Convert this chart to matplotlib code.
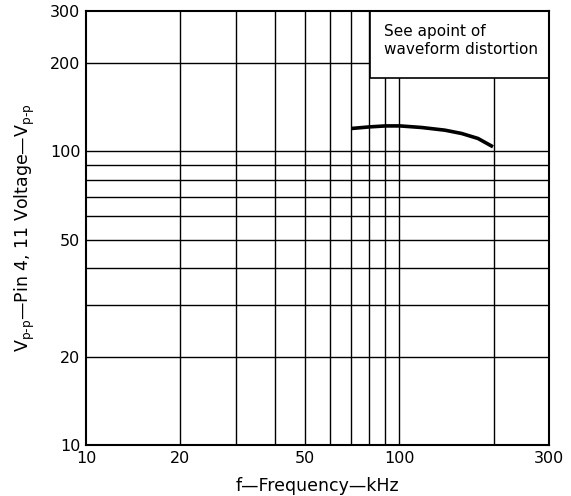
import matplotlib
matplotlib.use("Agg")
import matplotlib.pyplot as plt
from matplotlib.patches import Rectangle

plt.rcParams["font.family"] = ["DejaVu Sans"]

# ── data ──────────────────────────────────────────────────────────────────────
freq_khz = [70.4, 80.5, 90.3, 100.4, 117.7, 139.6, 157.8, 178, 198.8]
vpp      = [119.5, 121, 121.9, 121.9, 120.4, 117.9, 114.9, 110.5, 103.5]

x_grid = [20, 30, 40, 50, 60, 70, 80, 90, 100, 200]
y_grid = [20, 30, 40, 50, 60, 70, 80, 90, 100, 200]
x_ticks = [10, 20, 50, 100, 300]
y_ticks = [10, 20, 50, 100, 200, 300]

note_lines = ["See apoint of", "waveform distortion"]

# ── figure ────────────────────────────────────────────────────────────────────
fig = plt.figure(figsize=(5.71, 4.96), dpi=100)
ax = fig.add_axes([86/571, 51/496, 463/571, 434/496])
ax.set_xscale("log")
ax.set_yscale("log")
ax.set_xlim(10, 300)
ax.set_ylim(10, 300)

for xv in x_grid:
    ax.axvline(xv, color="black", lw=1.0, zorder=1)
for yv in y_grid:
    ax.axhline(yv, color="black", lw=1.0, zorder=1)

# white note box hides the grid in the upper right corner
ax.add_patch(Rectangle((80.5, 178), 300 - 80.5, 300 - 178, facecolor="white",
                       edgecolor="black", lw=1.2, zorder=2))
for txt, yb in zip(note_lines, [246, 214]):
    ax.text(89.5, yb, txt, fontsize=11, va="baseline", ha="left", zorder=3)

ax.plot(freq_khz, vpp, color="black", lw=2.6, solid_capstyle="butt", zorder=4)

ax.set_xticks(x_ticks)
ax.set_xticklabels([str(v) for v in x_ticks])
ax.set_yticks(y_ticks)
ax.set_yticklabels([str(v) for v in y_ticks])
ax.minorticks_off()
ax.tick_params(length=0, labelsize=11.5, pad=4)

for s in ax.spines.values():
    s.set_linewidth(1.5)
    s.set_zorder(5)

ax.set_xlabel("f—Frequency—kHz", fontsize=12.5, labelpad=8)
ax.set_ylabel("V$_{\\mathregular{p\u2010p}}$—Pin 4, 11 Voltage—V$_{\\mathregular{p\u2010p}}$",
              fontsize=12.5, labelpad=9)

fig.savefig("out.png", dpi=100)
